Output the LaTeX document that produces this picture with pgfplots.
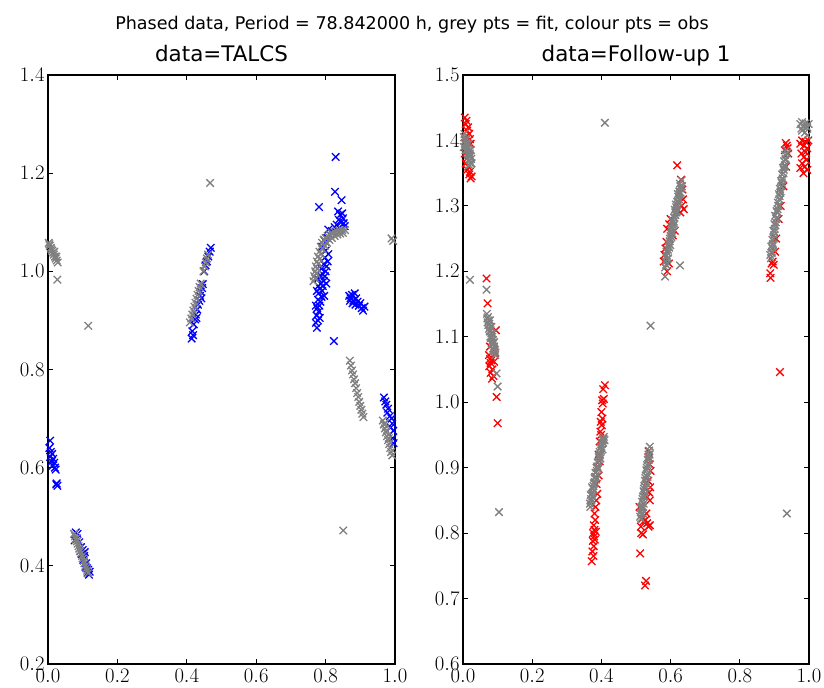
\documentclass[border=0pt]{standalone}
\usepackage{pgfplots}
\pgfplotsset{compat=1.18}
\usepackage{fontspec}
\setmainfont{DejaVu Sans}
\definecolor{obsblue}{RGB}{0,0,255}
\definecolor{obsred}{RGB}{255,0,0}
\definecolor{fitgrey}{RGB}{128,128,128}
\pgfplotsset{
  common/.style={
    scale only axis, height=589bp,
    xmin=0, xmax=1,
    xtick={0,0.2,0.4,0.6,0.8,1},
    ticklabel style={font=\fontsize{19.5}{20}\selectfont},
    xticklabel style={yshift=-2bp},
    /pgf/number format/.cd, fixed, fixed zerofill, precision=1, /pgfplots/.cd,
    axis line style={line width=1.2bp},
    major tick length=5bp,
    tick style={black, line width=0.8bp},
    title style={font=\fontsize{21.5}{24}\selectfont, anchor=base, at={(0.5,1)}, yshift=8bp},
    clip=true,
  },
  pts/.style={only marks, mark=x, mark size=5.3bp, mark options={line width=1.3bp, draw=#1}},
}
\begin{document}
\begin{tikzpicture}[x=1bp,y=1bp]
\path[use as bounding box] (0,0) rectangle (824,688);
\node[anchor=base, font=\fontsize{17.6}{20}\selectfont] at (412,658) {Phased data, Period = 78.842000 h, grey pts = fit, colour pts = obs};

\begin{axis}[common, at={(48bp,24bp)}, anchor=south west, width=347bp,
  ymin=0.2, ymax=1.4, ytick={0.2,0.4,0.6,0.8,1.0,1.2,1.4},
  title={data=TALCS}]
% observations (blue)
\addplot[pts=obsblue] coordinates {
(0.006,0.655)(0.004,0.640)(0.008,0.632)(0.012,0.628)(0.006,0.622)(0.015,0.618)(0.010,0.612)(0.018,0.610)(0.014,0.604)(0.020,0.600)(0.022,0.596)(0.024,0.566)(0.027,0.563)(0.025,0.568)
(0.080,0.468)(0.085,0.465)(0.077,0.452)(0.083,0.456)(0.090,0.448)(0.095,0.438)(0.093,0.430)(0.100,0.432)(0.098,0.424)(0.104,0.420)(0.106,0.428)(0.102,0.412)(0.110,0.405)(0.108,0.398)(0.112,0.395)(0.116,0.392)(0.114,0.386)(0.120,0.388)(0.118,0.382)
(0.414,0.863)(0.418,0.870)(0.416,0.878)(0.420,0.892)(0.424,0.902)(0.426,0.912)(0.430,0.922)(0.432,0.932)(0.436,0.940)(0.438,0.950)(0.440,0.958)(0.444,0.966)(0.446,0.974)(0.450,1.000)(0.454,1.012)(0.458,1.020)(0.462,1.030)(0.466,1.040)(0.469,1.048)(0.428,0.905)(0.442,0.945)
(0.829,1.233)(0.827,1.162)(0.846,1.145)(0.781,1.131)(0.824,0.858)
(0.836,1.122)(0.842,1.115)(0.848,1.118)(0.850,1.108)(0.838,1.105)(0.845,1.100)(0.852,1.098)(0.832,1.095)(0.855,1.092)(0.840,1.088)(0.826,1.090)(0.818,1.082)(0.812,1.075)(0.805,1.068)(0.800,1.060)(0.795,1.064)(0.790,1.050)(0.808,1.085)
(0.775,0.885)(0.772,0.895)(0.778,0.900)(0.774,0.910)(0.780,0.918)(0.776,0.925)(0.782,0.930)(0.785,0.938)(0.778,0.942)(0.788,0.948)(0.780,0.955)(0.790,0.960)(0.784,0.965)(0.792,0.970)(0.786,0.975)(0.795,0.980)(0.778,0.985)(0.798,0.990)(0.790,0.995)(0.800,1.000)(0.788,1.005)(0.803,1.010)(0.795,1.015)(0.806,1.020)(0.798,1.028)(0.808,1.035)(0.800,1.042)(0.796,0.950)(0.772,0.930)(0.783,0.905)(0.779,0.970)(0.787,0.990)(0.775,0.960)(0.802,0.975)
(0.868,0.950)(0.872,0.945)(0.876,0.952)(0.880,0.940)(0.884,0.955)(0.878,0.935)(0.888,0.945)(0.892,0.938)(0.896,0.930)(0.900,0.935)(0.904,0.925)(0.908,0.920)(0.912,0.928)(0.886,0.932)(0.870,0.940)
(0.968,0.743)(0.972,0.735)(0.975,0.728)(0.980,0.720)(0.978,0.712)(0.985,0.705)(0.990,0.700)(0.992,0.690)(0.988,0.682)(0.995,0.675)(0.993,0.660)(0.996,0.650)
};
% fit (grey)
\addplot[pts=fitgrey] coordinates {
(0.002,1.058)(0.005,1.052)(0.008,1.048)(0.010,1.045)(0.012,1.042)(0.015,1.038)(0.017,1.034)(0.020,1.030)(0.022,1.026)(0.025,1.022)(0.028,1.018)(0.004,1.055)(0.018,1.040)(0.024,1.030)
(0.027,0.983)(0.116,0.889)
(0.075,0.465)(0.078,0.460)(0.080,0.455)(0.083,0.450)(0.085,0.445)(0.088,0.440)(0.090,0.435)(0.093,0.430)(0.095,0.425)(0.098,0.420)(0.100,0.415)(0.103,0.410)(0.105,0.405)(0.108,0.400)(0.110,0.395)(0.113,0.390)(0.115,0.385)
(0.409,0.896)(0.413,0.904)(0.416,0.912)(0.419,0.920)(0.422,0.928)(0.425,0.936)(0.428,0.944)(0.431,0.952)(0.434,0.960)(0.437,0.968)(0.440,0.975)(0.448,1.000)(0.452,1.010)(0.455,1.018)(0.458,1.026)(0.461,1.034)(0.467,1.180)
(0.765,0.980)(0.767,0.990)(0.770,1.000)(0.772,1.010)(0.775,1.020)(0.778,1.030)(0.782,1.040)(0.786,1.050)(0.790,1.058)(0.795,1.064)(0.800,1.068)(0.806,1.072)(0.812,1.076)(0.818,1.078)(0.825,1.080)(0.832,1.082)(0.840,1.083)(0.848,1.084)(0.856,1.084)
(0.770,0.985)(0.773,0.995)(0.776,1.005)(0.779,1.015)(0.783,1.025)(0.787,1.035)(0.792,1.045)(0.798,1.052)(0.804,1.058)(0.811,1.064)(0.818,1.068)(0.826,1.072)(0.834,1.075)(0.842,1.077)(0.850,1.078)
(0.870,0.818)(0.873,0.808)(0.876,0.798)(0.879,0.790)(0.882,0.780)(0.885,0.772)(0.888,0.762)(0.891,0.752)(0.894,0.744)(0.897,0.734)(0.900,0.726)(0.903,0.718)(0.906,0.710)(0.909,0.703)
(0.851,0.472)
(0.990,1.067)(0.995,1.062)
(0.965,0.696)(0.968,0.688)(0.971,0.680)(0.974,0.672)(0.977,0.664)(0.980,0.656)(0.983,0.648)(0.986,0.640)(0.989,0.632)(0.992,0.625)(0.970,0.690)(0.976,0.675)(0.982,0.660)
};
\end{axis}

\begin{axis}[common, at={(463bp,24bp)}, anchor=south west, width=346bp,
  ymin=0.6, ymax=1.5, ytick={0.6,0.7,0.8,0.9,1.0,1.1,1.2,1.3,1.4,1.5},
  title={data=Follow-up 1}]
% observations (red)
\addplot[pts=obsred] coordinates {
(0.005,1.435)(0.010,1.430)(0.008,1.425)(0.015,1.420)(0.012,1.415)(0.018,1.410)(0.006,1.405)(0.020,1.402)(0.010,1.398)(0.022,1.395)
(0.008,1.365)(0.015,1.360)(0.012,1.355)(0.020,1.352)(0.018,1.348)(0.025,1.345)(0.022,1.342)(0.010,1.372)(0.005,1.380)
(0.068,1.189)(0.071,1.151)(0.075,1.072)(0.078,1.066)(0.080,1.060)(0.076,1.055)(0.082,1.064)(0.085,1.050)(0.080,1.045)(0.088,1.040)(0.084,1.036)(0.090,1.062)(0.097,1.008)(0.100,0.968)(0.078,1.085)(0.092,1.075)(0.086,1.095)(0.095,1.110)
(0.410,1.026)(0.405,1.020)(0.407,1.005)(0.404,0.998)(0.402,1.003)(0.400,0.985)(0.403,0.975)(0.398,0.970)(0.401,0.965)(0.397,0.955)(0.399,0.950)(0.395,0.940)(0.398,0.932)(0.392,0.920)(0.395,0.910)(0.389,0.900)(0.392,0.888)(0.386,0.875)(0.388,0.860)(0.385,0.850)(0.383,0.840)(0.380,0.830)(0.382,0.820)(0.378,0.812)(0.380,0.805)(0.376,0.800)(0.379,0.795)(0.375,0.788)(0.378,0.780)(0.374,0.772)(0.377,0.765)(0.372,0.757)(0.384,0.802)(0.381,0.790)
(0.538,0.915)(0.540,0.905)(0.536,0.925)(0.542,0.895)(0.535,0.880)(0.541,0.870)(0.538,0.862)(0.532,0.855)(0.540,0.850)(0.518,0.822)(0.522,0.818)(0.527,0.820)(0.532,0.815)(0.536,0.810)(0.540,0.812)(0.515,0.800)(0.520,0.798)(0.512,0.769)(0.529,0.727)(0.526,0.720)(0.514,0.810)(0.530,0.830)(0.510,0.840)
(0.619,1.362)(0.630,1.340)(0.634,1.325)(0.636,1.310)(0.632,1.300)(0.638,1.295)(0.628,1.290)(0.600,1.280)(0.596,1.272)(0.590,1.265)(0.588,1.245)(0.585,1.235)(0.582,1.225)(0.580,1.215)(0.590,1.200)(0.612,1.262)(0.625,1.305)(0.606,1.255)(0.595,1.212)
(0.933,1.396)(0.936,1.392)(0.938,1.388)(0.930,1.385)(0.940,1.380)(0.902,1.230)(0.895,1.215)(0.892,1.212)(0.888,1.197)(0.889,1.190)(0.898,1.210)(0.905,1.250)(0.912,1.280)(0.918,1.300)(0.926,1.330)(0.934,1.360)(0.916,1.046)
(0.975,1.395)(0.980,1.400)(0.985,1.392)(0.990,1.398)(0.995,1.388)(0.978,1.380)(0.986,1.375)(0.992,1.370)(0.980,1.365)(0.988,1.360)(0.975,1.358)(0.995,1.355)(0.984,1.350)(0.998,1.400)(0.990,1.382)
};
% fit (grey)
\addplot[pts=fitgrey] coordinates {
(0.003,1.405)(0.006,1.400)(0.009,1.396)(0.012,1.392)(0.015,1.388)(0.018,1.384)(0.020,1.380)(0.022,1.376)(0.024,1.372)(0.008,1.390)(0.014,1.378)(0.019,1.370)(0.023,1.364)(0.005,1.395)(0.011,1.385)(0.017,1.375)(0.021,1.366)
(0.004,1.410)(0.007,1.385)(0.010,1.402)(0.013,1.380)(0.016,1.395)(0.019,1.378)(0.022,1.385)(0.025,1.365)(0.002,1.390)(0.018,1.362)
(0.020,1.187)
(0.068,1.172)(0.069,1.135)(0.072,1.130)(0.074,1.125)(0.076,1.120)(0.078,1.115)(0.080,1.110)(0.082,1.105)(0.084,1.100)(0.086,1.095)(0.088,1.090)(0.090,1.085)(0.092,1.080)(0.094,1.076)(0.075,1.112)(0.079,1.100)(0.083,1.090)(0.087,1.082)(0.091,1.078)(0.097,1.044)(0.100,1.024)
(0.071,1.122)(0.073,1.118)(0.077,1.108)(0.081,1.098)(0.085,1.088)(0.089,1.080)(0.093,1.072)(0.070,1.128)(0.082,1.115)(0.086,1.105)(0.090,1.092)(0.078,1.125)
(0.104,0.832)
(0.367,0.845)(0.370,0.852)(0.372,0.860)(0.375,0.868)(0.378,0.876)(0.380,0.884)(0.383,0.892)(0.386,0.900)(0.389,0.908)(0.392,0.916)(0.395,0.924)(0.398,0.930)(0.401,0.936)(0.404,0.942)(0.407,0.947)(0.371,0.850)(0.376,0.862)(0.381,0.878)(0.387,0.895)(0.393,0.912)(0.399,0.926)(0.405,0.938)(0.384,0.886)(0.396,0.920)(0.373,0.870)
(0.369,0.858)(0.374,0.856)(0.377,0.872)(0.379,0.866)(0.382,0.886)(0.385,0.882)(0.388,0.902)(0.391,0.898)(0.394,0.918)(0.397,0.914)(0.400,0.932)(0.403,0.928)(0.406,0.944)(0.409,0.942)(0.368,0.840)
(0.512,0.825)(0.514,0.832)(0.516,0.840)(0.518,0.848)(0.520,0.856)(0.522,0.864)(0.524,0.872)(0.526,0.880)(0.528,0.888)(0.530,0.896)(0.532,0.904)(0.534,0.912)(0.536,0.920)(0.538,0.926)(0.540,0.932)(0.518,0.836)(0.522,0.845)(0.526,0.860)(0.530,0.875)(0.534,0.890)(0.537,0.905)(0.516,0.828)
(0.513,0.838)(0.515,0.822)(0.519,0.852)(0.521,0.840)(0.523,0.868)(0.525,0.856)(0.527,0.884)(0.529,0.870)(0.531,0.900)(0.533,0.886)(0.535,0.916)(0.537,0.912)(0.539,0.920)(0.520,0.830)
(0.542,1.117)(0.410,1.427)
(0.584,1.206)(0.586,1.215)(0.589,1.224)(0.592,1.233)(0.595,1.242)(0.598,1.250)(0.601,1.258)(0.604,1.266)(0.607,1.274)(0.610,1.282)(0.613,1.290)(0.616,1.298)(0.619,1.306)(0.622,1.314)(0.625,1.322)(0.628,1.330)(0.632,1.339)(0.590,1.218)(0.596,1.236)(0.602,1.252)(0.608,1.270)(0.614,1.286)(0.620,1.302)(0.626,1.318)(0.584,1.192)(0.627,1.209)
(0.587,1.210)(0.591,1.228)(0.594,1.238)(0.597,1.246)(0.600,1.254)(0.603,1.262)(0.606,1.278)(0.609,1.276)(0.612,1.294)(0.615,1.302)(0.618,1.292)(0.621,1.318)(0.624,1.310)(0.627,1.334)(0.630,1.326)(0.633,1.330)(0.588,1.230)(0.593,1.220)(0.599,1.240)(0.605,1.258)(0.611,1.272)(0.617,1.290)(0.623,1.306)(0.629,1.320)
(0.890,1.220)(0.893,1.230)(0.895,1.240)(0.898,1.250)(0.900,1.260)(0.903,1.270)(0.905,1.280)(0.908,1.290)(0.911,1.300)(0.914,1.310)(0.917,1.320)(0.920,1.330)(0.923,1.340)(0.926,1.350)(0.929,1.360)(0.932,1.370)(0.936,1.380)(0.894,1.235)(0.899,1.255)(0.904,1.275)(0.909,1.295)(0.915,1.315)(0.921,1.335)(0.927,1.355)(0.933,1.372)(0.892,1.228)
(0.888,1.225)(0.891,1.238)(0.894,1.248)(0.897,1.262)(0.900,1.272)(0.902,1.285)(0.906,1.292)(0.910,1.305)(0.913,1.318)(0.916,1.326)(0.919,1.338)(0.922,1.348)(0.925,1.358)(0.928,1.368)(0.931,1.378)(0.934,1.385)(0.896,1.242)(0.901,1.265)(0.907,1.282)(0.912,1.300)(0.918,1.322)(0.924,1.342)(0.930,1.362)
(0.936,0.830)
(0.975,1.425)(0.980,1.428)(0.985,1.422)(0.990,1.426)(0.995,1.420)(0.980,1.415)(0.988,1.412)(0.995,1.408)(0.978,1.418)(0.999,1.425)
};
\end{axis}
\end{tikzpicture}
\end{document}
